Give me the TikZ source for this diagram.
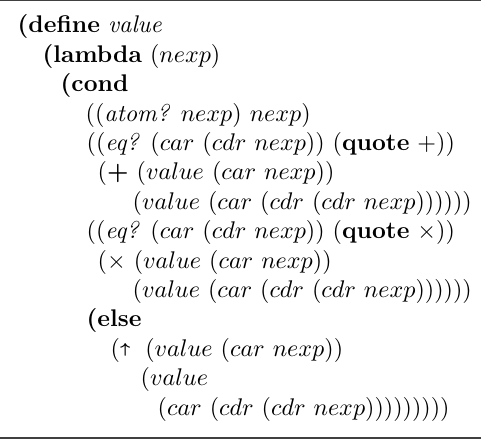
\documentclass[tikz,border=0pt]{standalone}
\usepackage{amsmath}
\usepackage{amssymb}
\usepackage{xcolor}
\usepackage{tikz}
\usetikzlibrary{positioning}
\newcommand{\kw}[1]{\textbf{#1}}
\newcommand{\va}[1]{$#1$}
\newcommand{\pr}[1]{\textit{#1}}

\begin{document}
\begin{tikzpicture}[x=0.415pt,y=-0.415pt, semithick]
 	\tikzstyle{code}=[anchor=base west, inner sep=0pt]
 	\tikzstyle{rule}=[draw=black!75]
 	\useasboundingbox (0,0) rectangle (481,439);
 	\draw[rule, line width=0.5pt] (0,0.6) -- (481,0.6);
 	\draw[rule, line width=1pt] (0,437.8) -- (481,437.8);

 	\node[code] (l1) at (17,33) {\kw{(define} \textit{value}};
 	\node[code] (l2) at (42,62.4) {\kw{(lambda} (\va{nexp})};
 	\node[code] (l3) at (60,91.8) {\kw{(cond}};
 	\node[code] (l4) at (85,121.2) {((\pr{atom?} \va{nexp}) \va{nexp})};
 	\node[code] (l5) at (86,150.6) {((\pr{eq?} (\va{car} (\va{cdr} \va{nexp})) (\kw{quote} +))};
 	\node[code] (l6) at (97,180) {($\boldsymbol{+}$ (\va{value} (\va{car} \va{nexp}))};
 	\node[code] (l7) at (132,209.4) {(\va{value} (\va{car} (\va{cdr} (\va{cdr} \va{nexp}))))))};
 	\node[code] (l8) at (86,238.8) {((\pr{eq?} (\va{car} (\va{cdr} \va{nexp})) (\kw{quote} $\times$))};
 	\node[code] (l9) at (97,268.2) {($\times$ (\va{value} (\va{car} \va{nexp}))};
 	\node[code] (l10) at (132,297.6) {(\va{value} (\va{car} (\va{cdr} (\va{cdr} \va{nexp}))))))};
 	\node[code] (l11) at (86,327) {\kw{(else}};
 	\node[code] (l12) at (110,356.4) {(\raisebox{1pt}{\fontsize{6}{6}\selectfont$\boldsymbol{\uparrow}$}\,(\va{value} (\va{car} \va{nexp}))};
 	\node[code] (l13) at (140,385.8) {(\va{value}};
 	\node[code] (l14) at (157,415.2) {(\va{car} (\va{cdr} (\va{cdr} \va{nexp})))))))))};
\end{tikzpicture}
\end{document}
